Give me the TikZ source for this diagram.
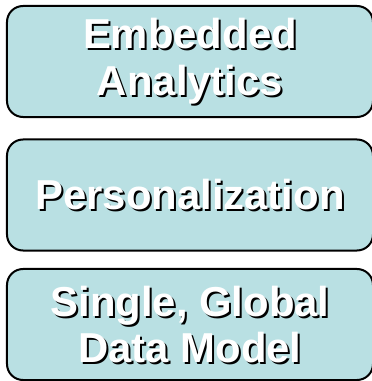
\documentclass[tikz,border=0pt]{standalone}
\usepackage{fontspec}
\newfontfamily\boxfont{Liberation Sans}
\definecolor{boxfill}{RGB}{185,224,227}
\begin{document}
\begin{tikzpicture}[x=1bp, y=1bp,
  every node/.style={align=center, inner sep=0pt,
    font=\boxfont\bfseries\fontsize{42}{47}\selectfont},
  layerbox/.style={draw=black, line width=2bp, fill=boxfill,
    rounded corners=16bp, minimum width=366bp, minimum height=111bp},
  shadowlbl/.style={text=black},
  toplbl/.style={text=white}]
  \useasboundingbox (0,0) rectangle (372,381);
  \foreach \n/\y/\txt in {1/319.5/{Embedded\\Analytics},
                          2/186/{Personalization},
                          3/56.5/{Single, Global\\Data Model}}
  {
    \node[layerbox] (box\n) at (190,\y) {};
    \node[shadowlbl] (shadow\n) at ([shift={(2,-2)}]box\n.center) {\txt};
    \node[toplbl] (label\n) at (box\n.center) {\txt};
  }
\end{tikzpicture}
\end{document}
